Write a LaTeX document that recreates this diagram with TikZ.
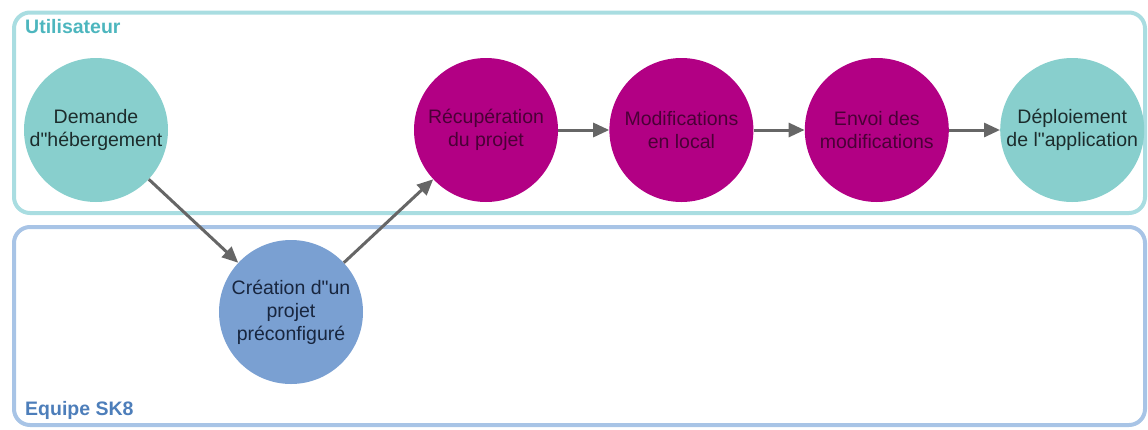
\documentclass[tikz,border=0pt]{standalone}
\usepackage{fontspec}
\setmainfont{Liberation Sans}[Ligatures=TeXOff]
\usetikzlibrary{arrows.meta,positioning}
\definecolor{usrline}{HTML}{A9DDE1}
\definecolor{skline}{HTML}{A8C4E6}
\definecolor{usrlabel}{HTML}{4DB6BE}
\definecolor{sklabel}{HTML}{4D7EBA}
\definecolor{tealfill}{HTML}{88CFCD}
\definecolor{tealtext}{HTML}{1C2C2C}
\definecolor{bluefill}{HTML}{7AA0D2}
\definecolor{bluetext}{HTML}{18263F}
\definecolor{magfill}{HTML}{B20084}
\definecolor{magtext}{HTML}{4A0036}
\definecolor{arrowgray}{HTML}{666666}

\begin{document}
\begin{tikzpicture}[x=1pt,y=-1pt,node distance=51pt,
    etape/.style={circle,minimum size=144pt,inner sep=0pt,align=center,font=\fontsize{19.5}{23}\selectfont},
    usr/.style={etape,fill=tealfill,text=tealtext},
    sk/.style={etape,fill=bluefill,text=bluetext},
    git/.style={etape,fill=magfill,text=magtext},
    lane/.style={line width=4pt,rounded corners=16pt},
    lanelabel/.style={anchor=base west,inner sep=0pt,font=\bfseries\fontsize{19.5}{23}\selectfont},
    fleche/.style={-{Triangle[length=16pt,width=14pt]},line width=3pt,draw=arrowgray}]
      \useasboundingbox (0,0) rectangle (1148,429);
      % couloirs
      \draw[lane,draw=usrline] (14,12.5) rectangle (1145,213);
      \draw[lane,draw=skline] (14,227) rectangle (1145,425);
      \node[lanelabel,text=usrlabel] (lusr) at (25,33) {Utilisateur};
      \node[lanelabel,text=sklabel] (lsk) at (25,415) {Equipe SK8};
      % etapes
      \node[usr] (dem) at (96,130) {Demande\\d"hébergement};
      \node[sk] (cre) at (291,312) {Création d"un\\projet\\préconfiguré};
      \node[git] (rec) at (486,130) {Récupération\\du projet};
      \node[git,right=of rec] (mod) {Modifications\\en local};
      \node[git,right=of mod] (env) {Envoi des\\modifications};
      \node[usr,right=of env] (dep) {Déploiement\\de l"application};
      \draw[fleche] (dem)--(cre);
      \draw[fleche] (cre)--(rec);
      \draw[fleche] (rec)--(mod);
      \draw[fleche] (mod)--(env);
      \draw[fleche] (env)--(dep);
    \end{tikzpicture}
\end{document}
